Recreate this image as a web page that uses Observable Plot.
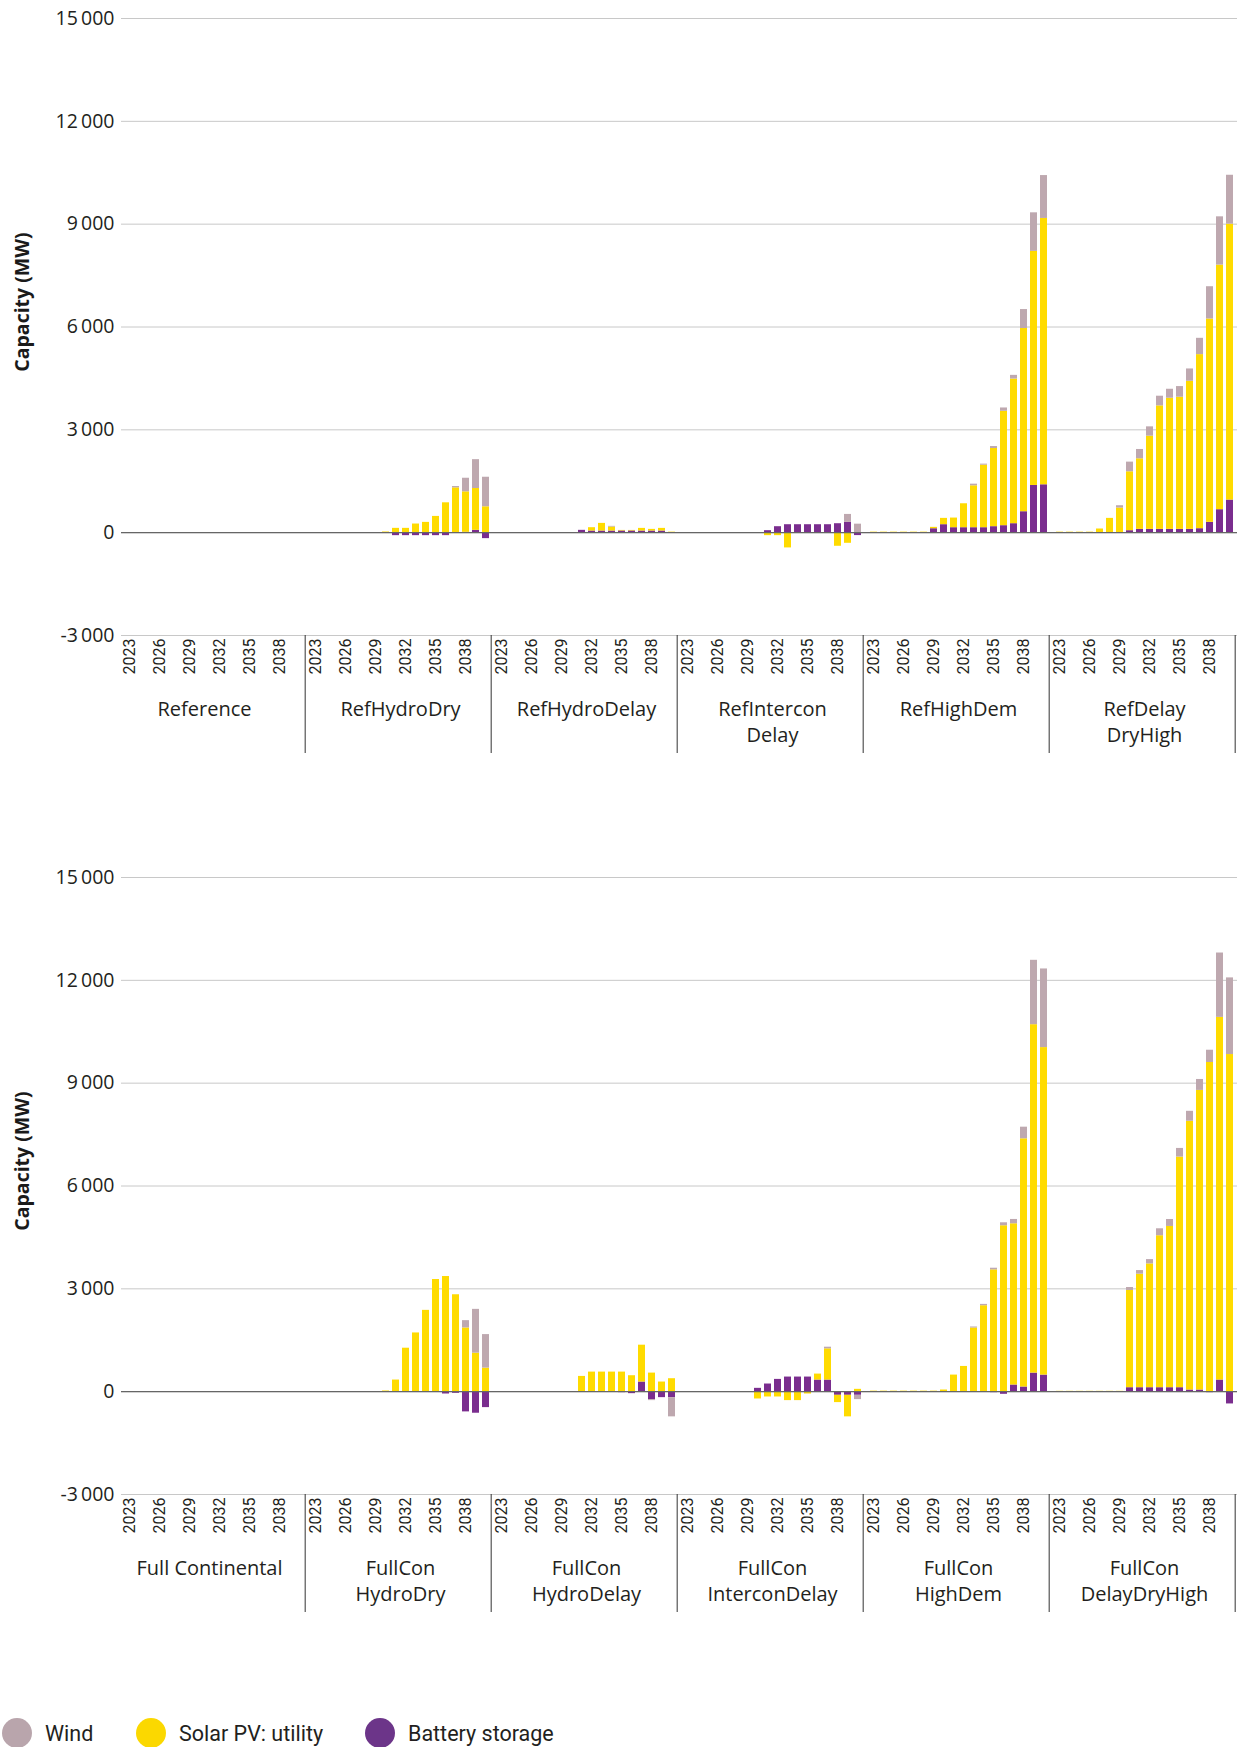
<!DOCTYPE html>
<html>
<head>
<meta charset="utf-8">
<script src="https://cdn.jsdelivr.net/npm/d3@7"></script>
<script src="https://cdn.jsdelivr.net/npm/@observablehq/plot@0.6"></script>
<style>
  html, body { margin: 0; padding: 0; background: #fff; }
  body { width: 1242px; height: 1747px; position: relative; overflow: hidden; font-family: "Open Sans", sans-serif; }
  #top, #bottom { position: absolute; left: 0; }
  #top { top: 0; }
  #bottom { top: 859px; }
  #legend { position: absolute; top: 1718px; left: 0; width: 1242px; height: 30px; }
  .item { position: absolute; top: 0; height: 30px; display: flex; align-items: center;
          font-family: Roboto, "Open Sans", sans-serif; font-size: 21.5px; color: #231f20; white-space: nowrap; }
  .dot { display: inline-block; width: 30px; height: 30px; border-radius: 50%; margin-right: 13px; }
</style>
</head>
<body>
<div id="top"></div>
<div id="bottom"></div>
<div id="legend"></div>
<script>
// ---------- data ----------
const years = [2023, 2024, 2025, 2026, 2027, 2028, 2029, 2030, 2031, 2032, 2033, 2034, 2035, 2036, 2037, 2038, 2039, 2040];
const yearTicks = [2023, 2026, 2029, 2032, 2035, 2038];
const yTicks = [-3000, 0, 3000, 6000, 9000, 12000, 15000];
const techs = ["Battery storage", "Solar PV: utility", "Wind"];
const legendOrder = ["Wind", "Solar PV: utility", "Battery storage"];

const topScenarios = ["Reference", "RefHydroDry", "RefHydroDelay", "RefInterconDelay", "RefHighDem", "RefDelayDryHigh"];
const topLabels = ["Reference", "RefHydroDry", "RefHydroDelay", "RefIntercon\nDelay", "RefHighDem", "RefDelay\nDryHigh"];

const topBattery = [
  [0,0,0,0,0,0,0,0,0,0,0,0,0,0,0,0,0,0],
  [0,0,0,0,0,0,0,0,-87,-87,-87,-87,-87,-87,0,10,68,-174],
  [0,0,0,0,0,0,0,0,68,48,48,48,50,50,48,48,48,0],
  [0,0,0,0,0,0,0,0,58,174,232,232,232,232,232,261,300,-85],
  [0,0,0,0,0,0,115,233,145,145,145,145,175,204,262,611,1377,1397],
  [0,0,0,0,0,0,0,58,97,97,97,97,97,97,116,301,670,951]
];
const topSolar = [
  [0,0,0,0,0,0,0,0,0,0,0,0,0,0,0,0,0,0],
  [0,0,0,0,0,0,0,20,126,126,252,300,474,871,1307,1181,1220,755],
  [0,0,0,0,0,0,0,0,0,97,223,116,15,15,77,48,77,15],
  [0,0,0,0,0,0,0,0,-87,-87,-445,0,0,0,0,-397,-310,0],
  [15,15,15,15,15,15,40,184,281,698,1222,1824,2280,3337,4220,5345,6829,7770],
  [15,15,15,15,107,417,718,1718,2058,2718,3602,3825,3854,4320,5078,5932,7136,8049]
];
const topWind = [
  [0,0,0,0,0,0,0,0,0,0,0,0,0,0,0,0,0,0],
  [0,0,0,0,0,0,0,0,0,0,0,0,0,0,39,397,842,862],
  [0,0,0,0,0,0,0,0,0,0,0,20,0,0,0,0,0,0],
  [0,0,0,0,0,0,0,0,0,0,0,0,0,0,0,0,232,248],
  [0,0,0,0,0,0,0,0,0,0,48,30,58,97,107,553,1125,1251],
  [0,0,0,0,0,0,68,282,272,272,282,262,311,359,476,942,1408,1427]
];

const bottomScenarios = ["Full Continental", "FullConHydroDry", "FullConHydroDelay", "FullConInterconDelay", "FullConHighDem", "FullConDelayDryHigh"];
const bottomLabels = ["Full Continental", "FullCon\nHydroDry", "FullCon\nHydroDelay", "FullCon\nInterconDelay", "FullCon\nHighDem", "FullCon\nDelayDryHigh"];

const bottomBattery = [
  [0,0,0,0,0,0,0,0,0,0,0,0,0,0,0,0,0,0],
  [0,0,0,0,0,0,0,0,0,0,0,0,0,-68,-48,-590,-629,-465],
  [0,0,0,0,0,0,0,0,0,0,0,0,-29,-58,281,-232,-174,-174],
  [0,0,0,0,0,0,0,97,223,358,426,426,426,339,339,-106,-106,-106],
  [0,0,0,0,0,0,0,0,0,0,0,0,-29,-77,194,136,542,484],
  [0,0,0,0,0,0,0,116,116,116,116,116,116,48,48,-29,339,-358]
];
const bottomSolar = [
  [0,0,0,0,0,0,0,0,0,0,0,0,0,0,0,0,0,0],
  [0,0,0,0,0,0,0,20,339,1268,1713,2372,3272,3359,2827,1859,1123,687],
  [0,0,0,0,0,0,0,0,445,571,571,571,571,465,1075,542,281,378],
  [0,0,0,0,0,0,0,-213,-155,-155,-261,-261,-68,174,910,-213,-629,68],
  [15,15,15,15,15,15,15,48,484,736,1858,2507,3553,4840,4704,7241,10164,9554],
  [10,10,10,10,10,10,10,2836,3311,3611,4433,4704,6728,7841,8741,9603,10580,9835]
];
const bottomWind = [
  [0,0,0,0,0,0,0,0,0,0,0,0,0,0,0,0,0,0],
  [0,0,0,0,0,0,0,0,0,0,0,0,0,0,0,213,1278,978],
  [0,0,0,0,0,0,0,0,0,0,0,0,0,0,0,-29,0,-561],
  [0,0,0,0,0,0,0,0,0,0,0,0,0,0,48,0,0,-126],
  [0,0,0,0,0,0,0,0,0,0,29,39,48,87,126,339,1878,2294],
  [0,0,0,0,0,0,0,87,106,126,203,203,252,290,319,358,1878,2236]
];

// ---------- styling ----------
const barColors = ["#7a2d8e", "#ffdb00", "#bea8af"];
const legendColors = { "Wind": "#b9a5ac", "Solar PV: utility": "#fbd800", "Battery storage": "#6c3589" };

const W = 1242, H = 859, ML = 119, MR = 3, MT = 18, MB = 224;
const plotH = H - MT - MB;
const bandStep = (W - ML - MR) / topScenarios.length / years.length;
const textColor = "#231f20";

const fmt = d3.formatLocale({decimal: ".", thousands: "\u2009", grouping: [3], currency: ["", ""], minus: "-"}).format(",");

function panel(scenarios, labels, battery, solar, wind, firstLabelDx) {
  const rows = [];
  const series = [battery, solar, wind];
  scenarios.forEach((s, i) => years.forEach((yr, j) => {
    series.forEach((arr, k) => rows.push({scenario: s, year: String(yr), tech: techs[k], value: arr[i][j]}));
  }));
  const labelOf = new Map(scenarios.map((s, i) => [s, labels[i]]));
  const facetText = {fx: d => d, text: d => labelOf.get(d), frameAnchor: "bottom", lineAnchor: "top",
    textAnchor: "middle", dy: 63, lineHeight: 1.263, fontSize: 20, fill: textColor};
  return Plot.plot({
    width: W, height: H,
    marginLeft: ML, marginRight: MR, marginTop: MT, marginBottom: MB,
    style: {fontFamily: '"Open Sans", sans-serif', fontSize: "18px", color: textColor, background: "#fff", overflow: "visible"},
    fx: {domain: scenarios, padding: 0, label: null, axis: null},
    x: {domain: years.map(String), paddingInner: 0.3, paddingOuter: 0.15, label: null, axis: null},
    y: {domain: [-3000, 15000], label: null},
    color: {domain: techs, range: barColors},
    marks: [
      Plot.gridY(yTicks, {stroke: "#c8c8c8", strokeOpacity: 1, strokeWidth: 1}),
      Plot.axisY(yTicks, {tickSize: 0, tickPadding: 7, tickFormat: fmt, fontSize: 19.5, fill: textColor, label: null}),
      Plot.barY(rows, {fx: "scenario", x: "year", y: "value", fill: "tech"}),
      Plot.ruleY([0], {stroke: "#666", strokeWidth: 1.3}),
      // year tick labels, repeated in every facet
      Plot.text(yearTicks.map(String), {x: d => d, text: d => d, frameAnchor: "bottom", rotate: -90,
        textAnchor: "end", lineAnchor: "middle", dy: 3, fontSize: 16, fontFamily: "Roboto, sans-serif", fill: textColor}),
      // facet (scenario) labels
      Plot.text(scenarios.slice(0, 1), {...facetText, dx: firstLabelDx}),
      Plot.text(scenarios.slice(1), facetText),
      // separators below each facet
      Plot.ruleX(scenarios, {fx: d => d, x: () => String(years[years.length - 1]), dx: bandStep / 2,
        insetTop: plotH, insetBottom: -118, stroke: "#333", strokeWidth: 1}),
      Plot.text(scenarios.slice(0, 1), {fx: d => d, text: () => "Capacity (MW)", frameAnchor: "left", rotate: -90,
        textAnchor: "middle", lineAnchor: "middle", dx: -99, dy: -25, fontWeight: 700, fontSize: 19.5, fill: "#1a1a1a"})
    ]
  });
}

document.getElementById("top").append(panel(topScenarios, topLabels, topBattery, topSolar, topWind, -10));
document.getElementById("bottom").append(panel(bottomScenarios, bottomLabels, bottomBattery, bottomSolar, bottomWind, -5));

// ---------- legend ----------
const legend = document.getElementById("legend");
const legendLefts = [2, 136, 365];
legendOrder.forEach((t, i) => {
  const item = document.createElement("div");
  item.className = "item";
  item.style.left = legendLefts[i] + "px";
  const dot = document.createElement("span");
  dot.className = "dot";
  dot.style.background = legendColors[t];
  const label = document.createElement("span");
  label.textContent = t;
  item.append(dot, label);
  legend.append(item);
});
</script>
</body>
</html>
